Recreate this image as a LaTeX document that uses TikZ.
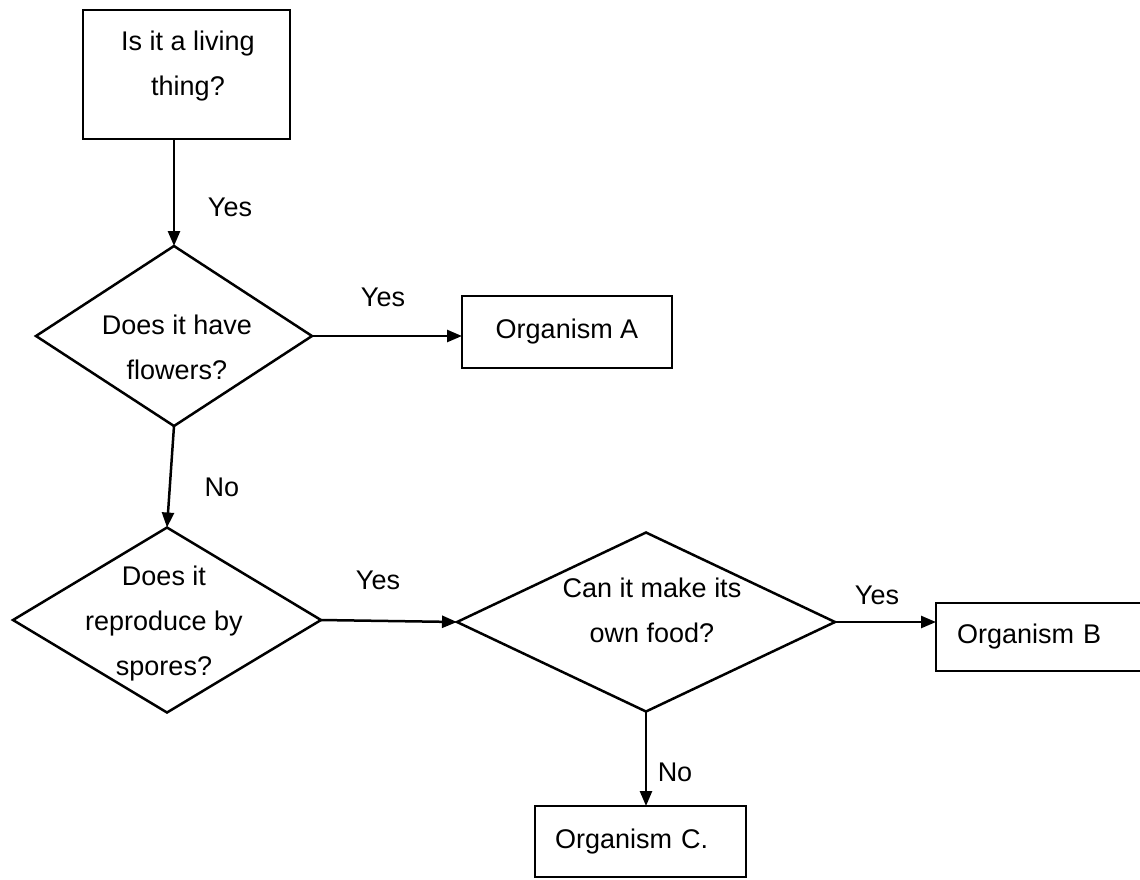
\documentclass[tikz,border=0pt]{standalone}
\usepackage{fontspec}
\setmainfont{Liberation Sans}
\usetikzlibrary{shapes.geometric,arrows.meta}
\begin{document}
\begin{tikzpicture}[x=1pt,y=-1pt,
  line width=2.5pt,
  every node/.style={font=\fontsize{27pt}{45pt}\selectfont, line width=2.5pt, outer sep=0pt},
  boxnode/.style={draw, rectangle, inner sep=0pt},
  dianode/.style={draw, diamond, inner sep=0pt},
  txt/.style={align=center, inner sep=0pt},
  lbl/.style={inner sep=0pt},
  arr/.style={-{Triangle[length=15pt,width=12pt]}}]
\useasboundingbox (0,0) rectangle (1140,879);
\clip (0,0) rectangle (1140,879);
\fill[white] (0,0) rectangle (1140,879);

\node[boxnode, minimum width=207pt, minimum height=129pt] (q1) at (186.5,74.5) {};
\node[txt] (q1t) at (188,66.5) {Is it a living\\thing?};

\node[dianode, minimum width=276pt, minimum height=180pt] (d1) at (174,336) {};
\node[txt] (d1t) at (177,347.5) {Does it have\\flowers?};

\node[boxnode, minimum width=210pt, minimum height=72pt] (oa) at (567,332) {Organism A};

\node[dianode, minimum width=308pt, minimum height=185pt] (d2) at (167,620) {};
\node[txt] (d2t) at (164,624) {Does it\\reproduce by\\spores?};

\node[dianode, minimum width=378pt, minimum height=179pt] (d3) at (646,622) {};
\node[txt] (d3t) at (652,610.5) {Can it make its\\own food?};

\node[boxnode, anchor=west, minimum width=214pt, minimum height=68pt, text width=172pt, align=left, inner xsep=21pt] (ob) at (936,637) {Organism B};

\node[boxnode, minimum width=211pt, minimum height=71pt, text width=171pt, align=left, inner xsep=20pt] (oc) at (640.5,841.5) {Organism C.};

\draw[arr] (q1.south -| d1.north) -- (d1.north);
\draw[arr] (d1.east) -- (d1.east -| oa.west);
\draw[arr] (d1.south) -- (d2.north);
\draw[arr] (d2.east) -- (d3.west);
\draw[arr] (d3.east) -- (d3.east -| ob.west);
\draw[arr] (d3.south) -- (d3.south |- oc.north);

\node[lbl] (y1) at (230,207) {Yes};
\node[lbl] (y2) at (383,297) {Yes};
\node[lbl] (n1) at (222,487) {No};
\node[lbl] (y3) at (378,580) {Yes};
\node[lbl] (y4) at (877,595) {Yes};
\node[lbl] (n2) at (675,772) {No};
\end{tikzpicture}
\end{document}
